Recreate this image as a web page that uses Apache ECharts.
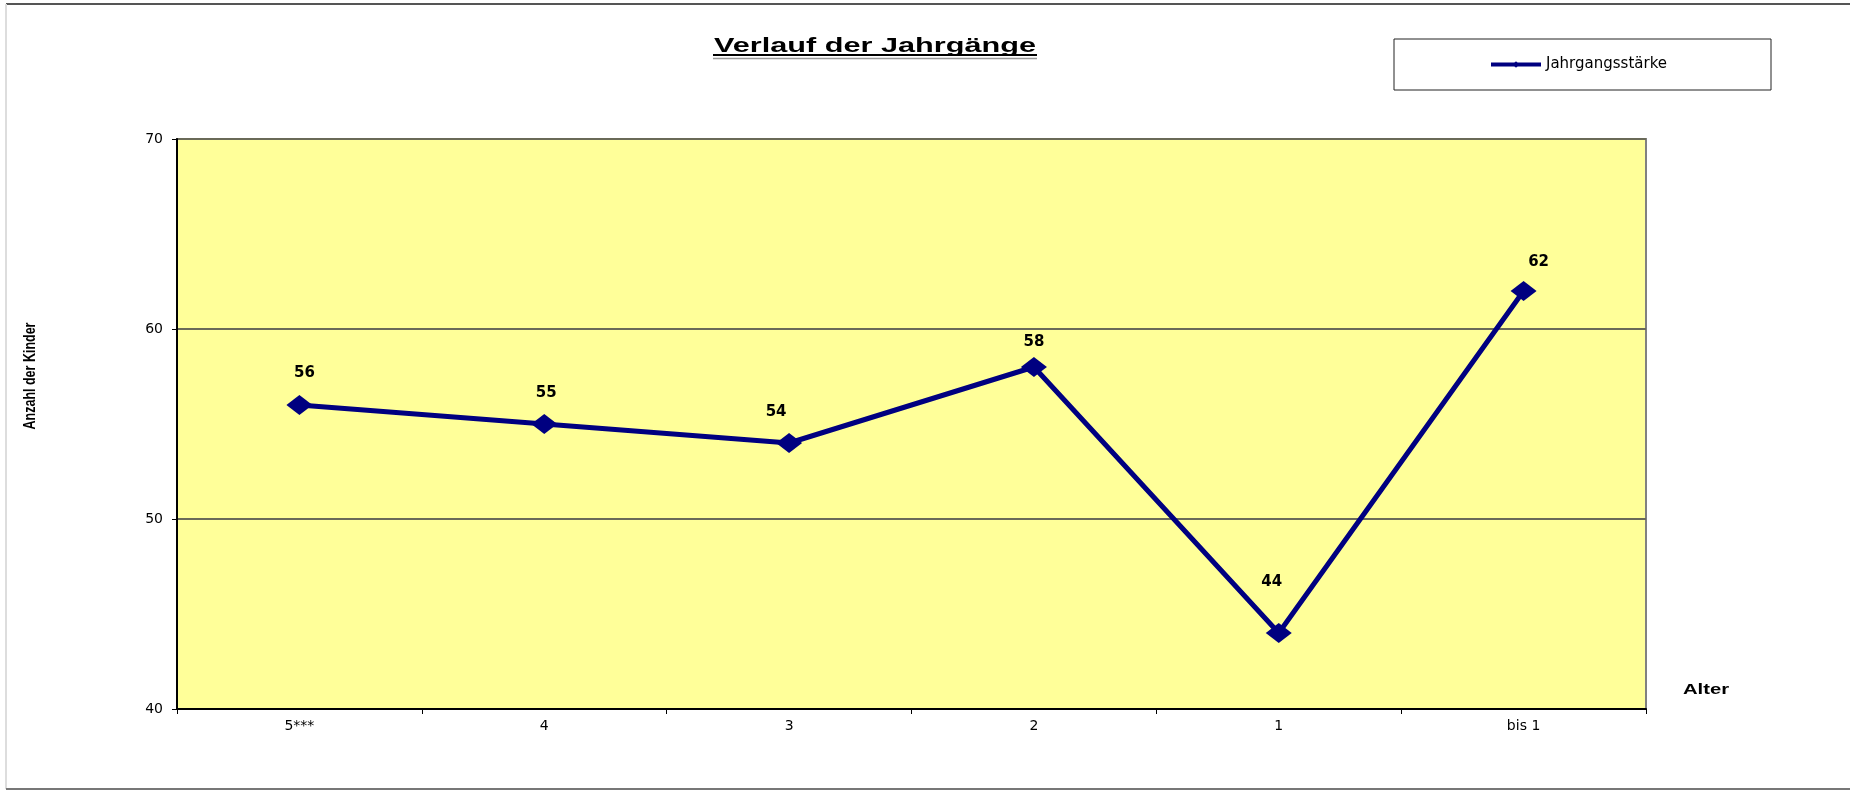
<!DOCTYPE html>
<html>
<head>
<meta charset="utf-8">
<script src="https://cdn.jsdelivr.net/npm/echarts@6/dist/echarts.min.js"></script>
<style>
  html, body { margin: 0; padding: 0; background: #fff; }
  #main { width: 1850px; height: 790px; }
</style>
</head>
<body>
<div id="main"></div>
<script>
    var ages = ['5***', '4', '3', '2', '1', 'bis 1'];
    var counts = [56, 55, 54, 58, 44, 62];
    var yTicks = { min: 40, max: 70, step: 10 };
    // label shifts relative to the point (as placed in the original)
    var labelShift = [[5, -32], [2, -31], [-13, -31], [0, -25], [-7, -51], [15, -29]];

    var chart = echarts.init(document.getElementById('main'));
    chart.setOption({
        backgroundColor: '#fff',
        animation: false,
        grid: {
            left: 177, right: 204, top: 139, bottom: 81,
            show: true,
            backgroundColor: '#FFFF99',
            borderColor: '#808080',
            borderWidth: 2
        },
        legend: {
            left: 1489, top: 57, padding: 0,
            itemWidth: 50, itemHeight: 8, itemGap: 5,
            lineStyle: { width: 4 },
            textStyle: { fontFamily: 'DejaVu Sans', fontSize: 15, color: '#000' },
            data: ['Jahrgangsstärke']
        },
        xAxis: {
            type: 'category',
            data: ages,
            boundaryGap: true,
            axisLine: { lineStyle: { color: '#000', width: 2 } },
            axisTick: { show: true, length: 5, interval: 0, lineStyle: { color: '#000' } },
            axisLabel: { margin: 10, fontFamily: 'DejaVu Sans', fontSize: 14, color: '#000' },
            splitLine: { show: false }
        },
        yAxis: {
            type: 'value',
            min: yTicks.min, max: yTicks.max, interval: yTicks.step,
            axisLine: { show: true, lineStyle: { color: '#000', width: 2 } },
            axisTick: { show: true, length: 5, lineStyle: { color: '#000' } },
            axisLabel: { margin: 14, fontFamily: 'DejaVu Sans', fontSize: 14, color: '#000' },
            splitLine: { show: true, lineStyle: { color: '#6a6a58', width: 2 } }
        },
        series: [{
            name: 'Jahrgangsstärke',
            type: 'line',
            data: counts.map(function (v, i) {
                return { value: v, label: { offset: labelShift[i] } };
            }),
            color: '#000080',
            lineStyle: { width: 5, color: '#000080' },
            symbol: 'diamond',
            symbolSize: [26, 20],
            itemStyle: { color: '#000080' },
            label: {
                show: true,
                position: 'inside',
                fontFamily: 'DejaVu Sans',
                fontWeight: 'bold',
                fontSize: 15,
                color: '#000'
            }
        }],
        graphic: [
            // outer frame
            { type: 'line', shape: { x1: 6, y1: 4, x2: 1850, y2: 4 }, style: { stroke: '#555', lineWidth: 2 } },
            { type: 'line', shape: { x1: 6, y1: 4, x2: 6, y2: 789 }, style: { stroke: '#ddd', lineWidth: 2 } },
            { type: 'line', shape: { x1: 6, y1: 789, x2: 1850, y2: 789 }, style: { stroke: '#777', lineWidth: 2 } },
            // title with underline
            {
                type: 'text', x: 875, y: 46, scaleX: 1.46,
                style: {
                    text: 'Verlauf der Jahrgänge', textAlign: 'center', textVerticalAlign: 'middle',
                    font: 'bold 21px "Liberation Sans", Arial, sans-serif', fill: '#000'
                }
            },
            { type: 'line', shape: { x1: 713, y1: 55, x2: 1037, y2: 55 }, style: { stroke: '#000', lineWidth: 2 } },
            { type: 'line', shape: { x1: 713, y1: 58.5, x2: 1037, y2: 58.5 }, style: { stroke: '#999', lineWidth: 1.5 } },
            // legend box
            { type: 'rect', shape: { x: 1394, y: 39, width: 377, height: 51 }, style: { fill: 'none', stroke: '#222', lineWidth: 1 } },
            // axis names
            {
                type: 'text', x: 30, y: 376, rotation: Math.PI / 2, scaleY: 1.35,
                style: {
                    text: 'Anzahl der Kinder', textAlign: 'center', textVerticalAlign: 'middle',
                    font: 'bold 12.5px "Liberation Sans", Arial, sans-serif', fill: '#000'
                }
            },
            {
                type: 'text', x: 1683, y: 690, scaleX: 1.35,
                style: {
                    text: 'Alter', textAlign: 'left', textVerticalAlign: 'middle',
                    font: 'bold 15px "Liberation Sans", Arial, sans-serif', fill: '#000'
                }
            }
        ]
    });
</script>
</body>
</html>
